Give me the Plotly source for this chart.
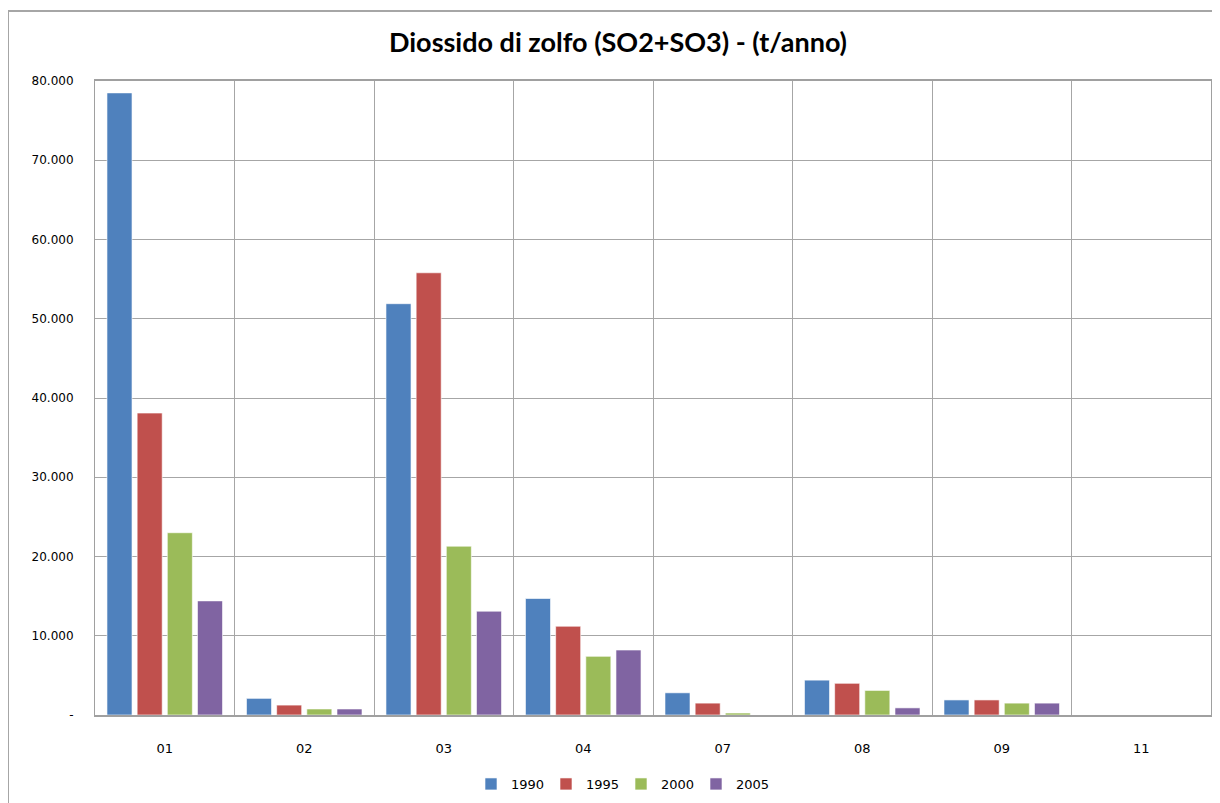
import plotly.graph_objects as go

categories = ["01", "02", "03", "04", "07", "08", "09", "11"]
years = ["1990", "1995", "2000", "2005"]
v1990 = [78500, 2100, 51900, 14700, 2800, 4400, 1900, 0]
v1995 = [38100, 1250, 55800, 11200, 1500, 4000, 1900, 0]
v2000 = [23000, 760, 21300, 7400, 250, 3100, 1500, 0]
v2005 = [14400, 760, 13100, 8200, 0, 900, 1500, 0]
colors = ["#4F81BD", "#C0504D", "#9BBB59", "#8064A2"]
ytick_vals = [0, 10000, 20000, 30000, 40000, 50000, 60000, 70000, 80000]
ytick_text = ["-", "10.000", "20.000", "30.000", "40.000", "50.000", "60.000", "70.000", "80.000"]

fig = go.Figure()
for name, vals, col in zip(years, [v1990, v1995, v2000, v2005], colors):
    fig.add_trace(go.Bar(
        name=name, x=categories, y=vals,
        marker=dict(color=col, line=dict(color="rgba(255,255,255,0.6)", width=1)),
    ))

OFF = 8  # page body margin
W, H = 1220 - OFF, 803 - OFF
L, R, T, B = 95 - OFF, 9, 81 - OFF, 88
pw, ph = W - L - R, H - T - B


def px_x(xp):
    return (xp - OFF - L) / pw


def px_y(yp):
    return 1 - (yp - OFF - T) / ph


fig.update_layout(
    width=W, height=H,
    margin=dict(l=L, r=R, t=T, b=B, autoexpand=False),
    paper_bgcolor="white", plot_bgcolor="white",
    barmode="group", bargap=0.135, bargroupgap=0.17,
    title=dict(text="<b>Diossido di zolfo (SO2+SO3) - (t/anno)</b>",
               x=(618 - OFF) / W, xanchor="center", y=1 - (43 - OFF) / H, yanchor="middle",
               font=dict(family="Lato, Open Sans, sans-serif", size=27, color="black"),
               automargin=False),
    font=dict(family="DejaVu Sans, sans-serif", size=12, color="black"),
    legend=dict(orientation="h", x=px_x(621), xanchor="center",
                y=px_y(784), yanchor="middle",
                font=dict(size=13), itemwidth=30, entrywidth=30, traceorder="normal"),
    showlegend=True,
)
fig.update_xaxes(
    type="category", tickson="boundaries", showgrid=True, gridcolor="#A6A6A6", gridwidth=1,
    showline=True, linecolor="#A0A0A0", linewidth=2, mirror=True, automargin=False,
    ticks="", ticklabelstandoff=20, tickfont=dict(size=13),
)
fig.update_yaxes(
    range=[0, 80000], tickvals=ytick_vals, ticktext=ytick_text,
    showgrid=True, gridcolor="#A6A6A6", gridwidth=1, automargin=False,
    showline=True, linecolor="#A0A0A0", linewidth=1, mirror=True,
    ticks="", ticklabelstandoff=18, zeroline=False, tickfont=dict(size=12),
)
# outer chart-area border
fig.add_shape(type="rect", xref="paper", yref="paper",
              x0=px_x(8), x1=px_x(1230),
              y0=px_y(815), y1=px_y(11),
              line=dict(color="#A6A6A6", width=2), fillcolor="rgba(0,0,0,0)", layer="below")

fig.write_html("out.html")
